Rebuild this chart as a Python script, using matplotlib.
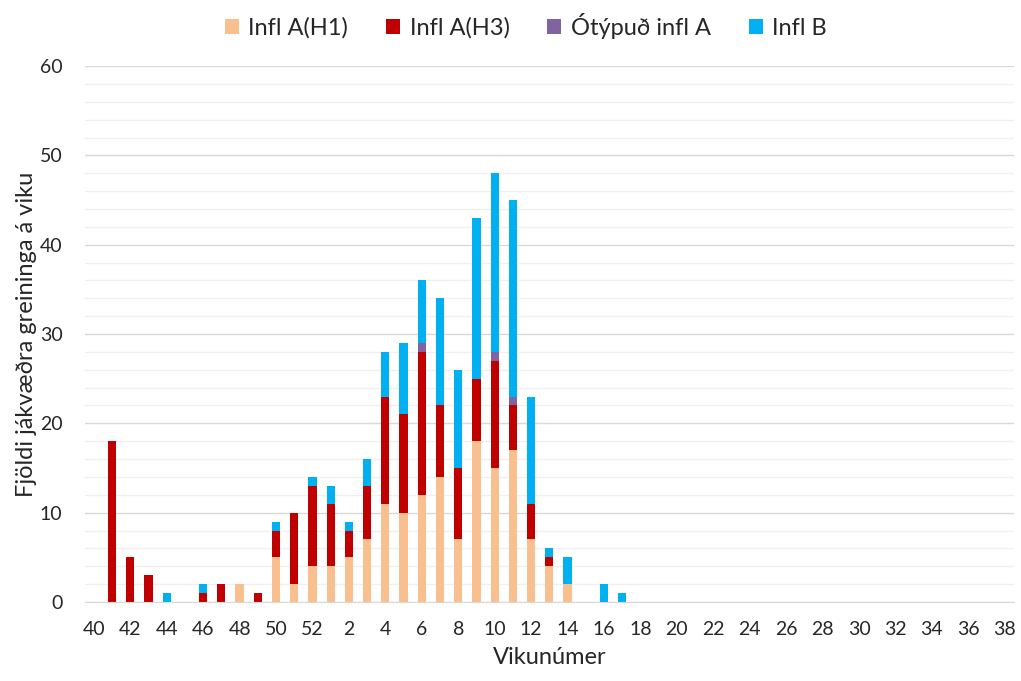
import matplotlib.pyplot as plt
import numpy as np

plt.rcParams['font.family'] = ['Lato', 'DejaVu Sans']

# vikur 40-52 og 1-38
weeks = list(range(40, 53)) + list(range(1, 39))
h1 = {48: 2, 50: 5, 51: 2, 52: 4, 1: 4, 2: 5, 3: 7, 4: 11, 5: 10, 6: 12, 7: 14,
      8: 7, 9: 18, 10: 15, 11: 17, 12: 7, 13: 4, 14: 2}
h3 = {41: 18, 42: 5, 43: 3, 46: 1, 47: 2, 49: 1, 50: 3, 51: 8, 52: 9, 1: 7, 2: 3,
      3: 6, 4: 12, 5: 11, 6: 16, 7: 8, 8: 8, 9: 7, 10: 12, 11: 5, 12: 4, 13: 1}
untyped = {6: 1, 10: 1, 11: 1}
infl_b = {44: 1, 46: 1, 50: 1, 52: 1, 1: 2, 2: 1, 3: 3, 4: 5, 5: 8, 6: 7, 7: 12,
          8: 11, 9: 18, 10: 20, 11: 22, 12: 12, 13: 1, 14: 3, 16: 2, 17: 1}

series = [
    ("Infl A(H1)", h1, "#F8BF8F"),
    ("Infl A(H3)", h3, "#C00000"),
    ("Ótýpuð infl A", untyped, "#8064A2"),
    ("Infl B", infl_b, "#00B0F0"),
]

txt = '#262626'
x = np.arange(len(weeks))
fig, ax = plt.subplots(figsize=(10.21, 6.81), dpi=100)
fig.subplots_adjust(left=0.083, right=0.993, bottom=0.116, top=0.903)

bottom = np.zeros(len(weeks))
for name, d, color in series:
    vals = np.array([d.get(w, 0) for w in weeks], dtype=float)
    ax.bar(x, vals, width=0.45, bottom=bottom, color=color, label=name, zorder=3)
    bottom += vals

ax.set_xlim(-0.5, len(weeks) - 0.5)
ax.set_ylim(0, 60)
ax.set_yticks(range(0, 61, 10))
ax.set_yticks(range(0, 61, 2), minor=True)
ax.set_xticks(x[::2])
ax.set_xticklabels([str(w) for w in weeks[::2]])
ax.tick_params(axis='both', which='both', length=0, labelsize=14, colors=txt)
ax.tick_params(axis='x', pad=14)
ax.tick_params(axis='y', pad=16)
ax.grid(axis='y', which='major', color='#D9D9D9', lw=1, zorder=0)
ax.grid(axis='y', which='minor', color='#F0F0F0', lw=1, zorder=0)
for s in ['top', 'right', 'left']:
    ax.spines[s].set_visible(False)
ax.spines['bottom'].set_color('#D9D9D9')
ax.spines['bottom'].set_zorder(4)

ax.set_xlabel("Vikunúmer", fontsize=17, color=txt, labelpad=6)
ax.set_ylabel("Fjöldi jákvæðra greininga á viku", fontsize=17, color=txt, labelpad=2)

fig.legend(loc='upper center', ncol=4, frameon=False, fontsize=17,
           bbox_to_anchor=(0.515, 1.012), handlelength=0.6, handleheight=0.6,
           handletextpad=0.4, columnspacing=1.6, labelcolor=txt)

plt.savefig("out.png", dpi=100)
